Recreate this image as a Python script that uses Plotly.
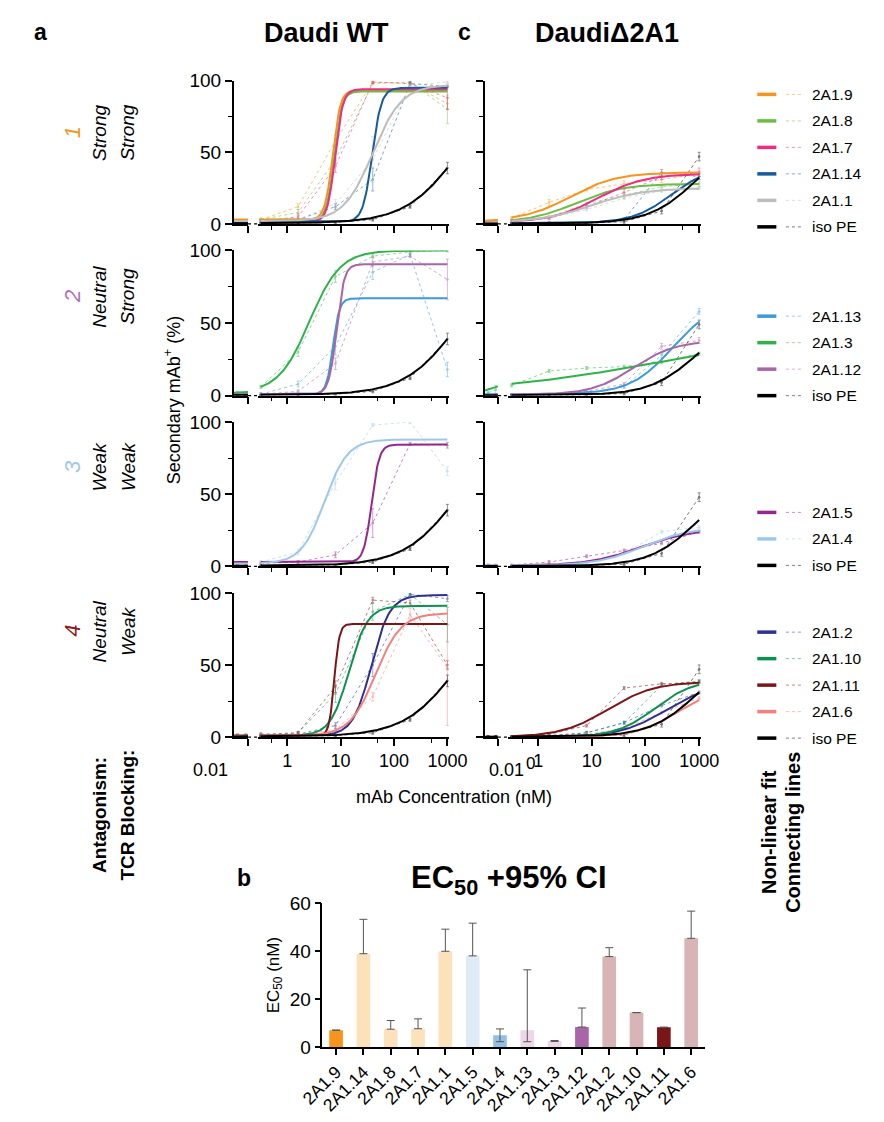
import numpy as np
import plotly.graph_objects as go

W, H = 884, 1122
FONT = "Liberation Sans, Arial, sans-serif"

# mAb concentrations (nM), 5-fold dilutions
conc = [0.0128, 0.064, 0.32, 1.6, 8, 40, 200, 1000]

# ---- group 1 : Strong / Strong
r1_names = ["2A1.9", "2A1.8", "2A1.7", "2A1.14", "2A1.1", "iso PE"]
r1_colors = ["#f7941d", "#6abd45", "#ec2c85", "#135b9b", "#bdbdbd", "#000000"]
wt1_mean = [[2, 2, 3, 12, 58, 99, 98, 84], [2, 2, 3, 8, 45, 98, 99, 80],
            [2, 2, 2, 5, 40, 99, 98, 88], [2, 2, 2, 3, 12, 31, 98, 96],
            [2, 2, 2, 3, 14, 45, 97, 99], [0.5, 0.5, 0.5, 0.5, 1, 3, 12, 39]]
wt1_err = [[1, 1, 1, 2, 4, 1, 1, 4], [1, 1, 1, 2, 4, 1, 1, 10], [1, 1, 1, 2, 4, 1, 1, 8],
           [1, 1, 1, 1, 2, 8, 1, 1], [1, 1, 1, 1, 3, 16, 1, 1], [0.3, 0.3, 0.3, 0.3, 0.5, 1, 1, 4]]
# bottom, top, EC50, hill
wt1_fit = [[3, 93.5, 7.1, 6], [2, 92.5, 7.6, 6], [1.5, 94, 7.9, 6],
           [1.5, 95, 39, 5], [2, 97, 40, 1.6], [0.5, 100, 1700, 0.86]]
ko1_mean = [[2, 2, 4, 15, 24, 28, 31, 35], [1, 1, 2, 5, 14, 20, 26, 28],
            [1, 1, 2, 4, 12, 22, 33, 36], [0.5, 0.5, 0.5, 1, 1, 3, 36, 33],
            [1, 1, 2, 4, 10, 18, 23, 25], [0.3, 0.3, 0.3, 0.3, 0.5, 1.5, 9, 47]]
ko1_err = [[1, 1, 1, 2, 1, 2, 2, 2], [1, 1, 1, 1, 1, 2, 1, 2], [1, 1, 1, 1, 1, 2, 2, 3],
           [0.3, 0.3, 0.3, 0.5, 0.5, 1, 2, 2], [1, 1, 1, 1, 1, 1, 1, 1], [0.3, 0.3, 0.3, 0.3, 0.3, 1, 2, 3]]
ko1_fit = [[2, 36, 4, 1.0], [1, 28, 5, 1.0], [1, 35, 13, 1.0],
           [0.5, 40, 300, 1.2], [1, 25, 10, 0.9], [0.3, 60, 875, 1.0]]

# ---- group 2 : Neutral / Strong
r2_names = ["2A1.13", "2A1.3", "2A1.12", "iso PE"]
r2_colors = ["#3c9ad8", "#2eb34a", "#a865a8", "#000000"]
wt2_mean = [[1, 1, 1, 8, 34, 85, 97, 18], [2, 2, 6, 30, 82, 96, 99, 100],
            [1, 1, 1, 3, 22, 92, 96, 80], [0.5, 0.5, 0.5, 0.5, 1, 3, 12, 39]]
wt2_err = [[1, 1, 1, 2, 6, 5, 1, 5], [1, 1, 1, 3, 4, 1, 1, 1],
           [1, 1, 1, 1, 4, 3, 1, 14], [0.3, 0.3, 0.3, 0.3, 0.5, 1, 1, 4]]
wt2_fit = [[1, 67, 7.2, 7], [2, 100, 2.6, 1.5], [1, 90.5, 8.4, 6], [0.5, 100, 1700, 0.86]]
ko2_mean = [[1, 1, 1, 1, 2, 6, 28, 58], [2, 4, 7, 17, 19, 20, 23, 29],
            [0.5, 0.5, 1, 1, 3, 8, 34, 38], [0.3, 0.3, 0.3, 0.3, 0.5, 1.5, 9, 49]]
ko2_err = [[0.5, 0.5, 0.5, 0.5, 1, 1, 2, 2], [1, 3, 1, 1, 1, 1, 1, 1],
           [0.3, 0.3, 0.5, 0.5, 1, 1, 2, 2], [0.3, 0.3, 0.3, 0.3, 0.3, 1, 2, 3]]
ko2_fit = [[1, 65, 320, 1.1], [0, 50, 357, 0.234], [0.5, 38, 60, 1.1], [0.3, 55, 875, 1.0]]

# ---- group 3 : Weak / Weak
r3_names = ["2A1.5", "2A1.4", "iso PE"]
r3_colors = ["#93278f", "#9dc8ec", "#000000"]
wt3_mean = [[2, 2, 2, 3, 8, 30, 85, 84], [2, 2, 3, 10, 58, 98, 100, 66],
            [0.5, 0.5, 0.5, 0.5, 1, 3, 12, 39]]
wt3_err = [[1, 1, 1, 1, 2, 10, 1, 2], [1, 1, 1, 2, 5, 1, 1, 3], [0.3, 0.3, 0.3, 0.3, 0.5, 1, 1, 4]]
wt3_fit = [[3, 84.5, 38, 6], [2, 88, 5, 2], [0.5, 100, 1700, 0.86]]
ko3_mean = [[1, 1, 1, 3, 7, 11, 16, 24], [1, 1, 1, 1, 3, 9, 24, 27],
            [0.3, 0.3, 0.3, 0.3, 0.5, 1.5, 9, 48]]
ko3_err = [[0.5, 0.5, 0.5, 1, 1, 1, 1, 1], [0.5, 0.5, 0.5, 0.5, 1, 1, 1, 1],
           [0.3, 0.3, 0.3, 0.3, 0.3, 1, 2, 3]]
ko3_fit = [[0.5, 26, 80, 0.9], [0.5, 27, 90, 1.0], [0.3, 60, 875, 1.0]]

# ---- group 4 : Neutral / Weak
r4_names = ["2A1.2", "2A1.10", "2A1.11", "2A1.6", "iso PE"]
r4_colors = ["#2e3192", "#0c9150", "#7b1518", "#f47f7b", "#000000"]
wt4_mean = [[1, 1, 1, 2, 8, 50, 99, 96], [1, 1, 1, 3, 30, 87, 99, 78],
            [1, 1, 2, 3, 35, 95, 93, 50], [1, 1, 1, 2, 5, 28, 85, 48],
            [0.5, 0.5, 0.5, 0.5, 1, 3, 12, 39]]
wt4_err = [[1, 1, 1, 1, 2, 8, 1, 2], [1, 1, 1, 1, 6, 6, 1, 12], [1, 1, 1, 1, 4, 2, 2, 3],
           [1, 1, 1, 1, 2, 3, 4, 40], [0.3, 0.3, 0.3, 0.3, 0.5, 1, 1, 4]]
wt4_fit = [[1, 98.5, 37.7, 2.5], [1, 91, 14.4, 2.5], [1, 78.5, 7.6, 9],
           [1, 86, 45, 1.8], [0.5, 100, 1700, 0.86]]
ko4_mean = [[0.5, 0.5, 0.5, 1, 3, 10, 22, 31], [0.5, 0.5, 0.5, 1, 3, 10, 36, 39],
            [0.5, 0.5, 0.5, 2, 8, 34, 37, 38], [0.5, 0.5, 0.5, 1, 2, 6, 17, 27],
            [0.3, 0.3, 0.3, 0.3, 0.5, 1.5, 9, 47]]
ko4_err = [[0.3, 0.3, 0.3, 0.5, 1, 1, 1, 1], [0.3, 0.3, 0.3, 0.5, 1, 1, 1, 1],
           [0.3, 0.3, 0.3, 0.5, 1, 1, 1, 1], [0.3, 0.3, 0.3, 0.5, 1, 1, 1, 1],
           [0.3, 0.3, 0.3, 0.3, 0.3, 1, 2, 3]]
ko4_fit = [[0, 38, 250, 1.0], [0, 40, 150, 1.2], [0, 38.5, 20, 1.0],
           [0, 35, 400, 1.1], [0.3, 58, 875, 1.0]]

# ---- EC50 bar chart
ec_names = ["2A1.9", "2A1.14", "2A1.8", "2A1.7", "2A1.1", "2A1.5", "2A1.4",
            "2A1.13", "2A1.3", "2A1.12", "2A1.2", "2A1.10", "2A1.11", "2A1.6"]
ec_vals = [7.1, 38.9, 7.5, 7.7, 39.9, 38.0, 5.0, 7.1, 2.6, 8.4, 37.7, 14.4, 8.3, 45.3]
ec_low = [7.1, 38.9, 7.5, 7.7, 39.9, 38.0, 2.3, 2.3, 2.4, 8.4, 37.7, 14.4, 8.3, 45.3]
ec_high = [7.1, 53.2, 11.1, 11.8, 49.1, 51.6, 7.6, 32.2, 2.8, 16.3, 41.4, 14.4, 8.3, 56.6]
ec_colors = ["#f7941d", "#fde1bb", "#fde1bb", "#fde1bb", "#fde1bb", "#deebf6", "#93c0e6",
             "#ecd6ea", "#ecd6ea", "#a865a8", "#d9b4b6", "#d9b4b6", "#7b1518", "#d9b4b6"]


def px(x):
    return x / W


def py(y):
    return 1 - y / H


def logistic(x, p):
    bottom, top, ec50, hill = p
    return bottom + (top - bottom) / (1 + (ec50 / x) ** hill)


panels = [
    (r1_names, r1_colors, wt1_mean, wt1_err, wt1_fit),
    (r1_names, r1_colors, ko1_mean, ko1_err, ko1_fit),
    (r2_names, r2_colors, wt2_mean, wt2_err, wt2_fit),
    (r2_names, r2_colors, ko2_mean, ko2_err, ko2_fit),
    (r3_names, r3_colors, wt3_mean, wt3_err, wt3_fit),
    (r3_names, r3_colors, ko3_mean, ko3_err, ko3_fit),
    (r4_names, r4_colors, wt4_mean, wt4_err, wt4_fit),
    (r4_names, r4_colors, ko4_mean, ko4_err, ko4_fit),
]

rows_px = [(72, 218), (245, 393), (420, 567), (594, 741)]
seg1_px = [(221, 236), (484, 498)]
seg2_px = [(246, 447), (509, 711)]
SEG1_RANGE = [-2.2, -1.0]
SEG2_RANGE = [-0.555, 3.035]

fig = go.Figure()
layout = {}
shapes = []
annotations = []

x_seg1 = np.logspace(SEG1_RANGE[0], SEG1_RANGE[1], 20)
x_seg2 = np.logspace(np.log10(0.32), 3, 200)
c1 = [v for v in conc if v < 0.1]
c2 = [v for v in conc if v >= 0.1]
n1 = len(c1)


def ax(n):
    return "" if n == 1 else str(n)


for k, (names, colors, means, errs, fits) in enumerate(panels):
    r, c = divmod(k, 2)
    xa1, xa2, ya = 2 * k + 1, 2 * k + 2, k + 1
    order = list(range(len(names)))
    # connecting lines first
    for i in order:
        for xs, sl, xa in ((c1, slice(0, n1), xa1), (c2, slice(n1, None), xa2)):
            fig.add_trace(go.Scatter(
                x=xs, y=means[i][sl], mode="lines+markers",
                line=dict(color=colors[i], width=1, dash="dot"),
                marker=dict(size=2.5, color=colors[i]),
                error_y=dict(type="data", array=errs[i][sl], thickness=0.8,
                             width=1.5, color=colors[i]),
                opacity=0.55, xaxis="x" + ax(xa), yaxis="y" + ax(ya),
                showlegend=False, hoverinfo="skip"))
    # non-linear fits on top
    for i in order:
        for xs, xa in ((x_seg1, xa1), (x_seg2, xa2)):
            fig.add_trace(go.Scatter(
                x=xs, y=logistic(xs, fits[i]), mode="lines",
                line=dict(color=colors[i], width=2),
                xaxis="x" + ax(xa), yaxis="y" + ax(ya),
                showlegend=False, name=names[i]))

    top, bot = rows_px[r]
    bottom_row = r == 3
    common_x = dict(type="log", showgrid=False, zeroline=False, showline=True,
                    linecolor="black", linewidth=1.5, ticks="outside", ticklen=7,
                    tickwidth=1.5, tickcolor="black", anchor="y" + ax(ya),
                    tickfont=dict(family=FONT, size=18, color="black"))
    layout["xaxis" + ax(xa1)] = dict(common_x, domain=[px(seg1_px[c][0]), px(seg1_px[c][1])],
                                     range=SEG1_RANGE, tickvals=[0.1], showticklabels=False)
    layout["xaxis" + ax(xa2)] = dict(common_x, domain=[px(seg2_px[c][0]), px(seg2_px[c][1])],
                                     range=SEG2_RANGE, tickvals=[1, 10, 100, 1000],
                                     ticktext=["1", "10", "100", "1000"],
                                     showticklabels=bottom_row,
                                     minor=dict(tickvals=[0.5, 5, 50, 500], ticks="outside",
                                                ticklen=4, tickwidth=1.2, tickcolor="black"))
    layout["yaxis" + ax(ya)] = dict(
        domain=[py(bot), py(top)], range=[0, 100], anchor="x" + ax(xa1),
        showgrid=False, zeroline=False, showline=True, linecolor="black", linewidth=1.5,
        ticks="outside", ticklen=7, tickwidth=1.5, tickcolor="black",
        tickvals=[0, 50, 100], showticklabels=(c == 0),
        tickfont=dict(family=FONT, size=19, color="black"),
        minor=dict(tickvals=[25, 75], ticks="outside", ticklen=4, tickwidth=1.2,
                   tickcolor="black"))
    # axis break
    shapes.append(dict(type="line", xref="paper", yref="paper",
                       x0=px(seg1_px[c][1]), x1=px(seg2_px[c][0]), y0=py(bot), y1=py(bot),
                       line=dict(color="black", width=1.2, dash="dot")))

# ---- bar chart
fig.add_trace(go.Bar(
    x=ec_names, y=ec_vals, marker=dict(color=ec_colors, line=dict(width=0)), width=0.5,
    error_y=dict(type="data", symmetric=False,
                 array=[h - v for h, v in zip(ec_high, ec_vals)],
                 arrayminus=[v - l for v, l in zip(ec_vals, ec_low)],
                 color="#555555", thickness=1, width=4),
    xaxis="x17", yaxis="y9", showlegend=False))
layout["xaxis17"] = dict(domain=[px(314), px(715)], range=[-0.5, 13.5], anchor="y9",
                         showline=True, linecolor="black", linewidth=1.5, ticks="outside",
                         ticklen=6, tickwidth=1.5, tickcolor="black", tickangle=-45,
                         tickfont=dict(family=FONT, size=17.5, color="black"), showgrid=False)
layout["yaxis9"] = dict(domain=[py(1057), py(910)], range=[0, 60], anchor="x17",
                        showline=True, linecolor="black", linewidth=1.5, ticks="outside",
                        ticklen=6, tickwidth=1.5, tickcolor="black", tickvals=[0, 20, 40, 60],
                        showgrid=False, zeroline=False,
                        tickfont=dict(family=FONT, size=19, color="black"),
                        title=dict(text="EC<sub>50</sub> (nM)", standoff=6,
                                   font=dict(family=FONT, size=17, color="black")))

# ---- legends (drawn per group)
legend_groups = [(r1_names, r1_colors, 221), (r2_names, r2_colors, 393),
                 (r3_names, r3_colors, 566), (r4_names, r4_colors, 742)]
for names, colors, last_y in legend_groups:
    n = len(names)
    for i, (nm, col) in enumerate(zip(names, colors)):
        yy = last_y - (n - 1 - i) * 27
        shapes.append(dict(type="line", xref="paper", yref="paper", x0=px(770), x1=px(790),
                           y0=py(yy), y1=py(yy), line=dict(color=col, width=3.5)))
        shapes.append(dict(type="line", xref="paper", yref="paper", x0=px(800), x1=px(816),
                           y0=py(yy), y1=py(yy), opacity=0.5,
                           line=dict(color=col, width=1, dash="dot")))
        annotations.append(dict(text=nm, x=px(825), y=py(yy), xref="paper", yref="paper",
                                xanchor="left", yanchor="middle", showarrow=False,
                                font=dict(family=FONT, size=15.5, color="black")))


def txt(s, x, y, size, angle=0, xa="center", ya="middle", color="black"):
    annotations.append(dict(text=s, x=px(x), y=py(y), xref="paper", yref="paper",
                            xanchor=xa, yanchor=ya, showarrow=False, textangle=angle,
                            font=dict(family=FONT, size=size, color=color)))


txt("<b>a</b>", 18, 22, 23)
txt("<b>c</b>", 463, 22, 23)
txt("<b>b</b>", 232, 885, 23)
txt("<b>Daudi WT</b>", 318, 23, 27)
txt("<b>DaudiΔ2A1</b>", 612, 23, 27)
txt("<b>EC<sub>50</sub> +95% CI</b>", 510, 887, 31)
txt("Secondary mAb<sup>+</sup> (%)", 157, 398, 18, angle=-90)
txt("mAb Concentration (nM)", 452, 802, 18)
txt("0.01", 197, 774, 18)
txt("0.01", 507, 774, 18)
txt("0", 532, 768, 17)
txt("<b>Non-linear fit</b>", 783, 838, 20, angle=-90)
txt("<b>Connecting lines</b>", 808, 838, 20, angle=-90)
txt("<b>Antagonism:</b>", 80, 820, 19, angle=-90)
txt("<b>TCR Blocking:</b>", 110, 820, 19, angle=-90)

group_y = [125, 292, 465, 633]
group_num_colors = ["#f7941d", "#b272b4", "#9dc8ec", "#8b1a1a"]
antagonism = ["Strong", "Neutral", "Weak", "Neutral"]
blocking = ["Strong", "Strong", "Weak", "Weak"]
for i, gy in enumerate(group_y):
    txt("<i>%d</i>" % (i + 1), 52, gy, 22, angle=-90, color=group_num_colors[i])
    txt("<i>%s</i>" % antagonism[i], 80, gy, 19, angle=-90)
    txt("<i>%s</i>" % blocking[i], 110, gy, 19, angle=-90)

fig.update_layout(**layout)
fig.update_layout(width=W, height=H, margin=dict(l=0, r=0, t=0, b=0),
                  plot_bgcolor="white", paper_bgcolor="white", showlegend=False,
                  shapes=shapes, annotations=annotations, bargap=0.5,
                  font=dict(family=FONT, color="black"))

fig.write_html("out.html", config={"displayModeBar": False},
               post_script="document.body.style.margin='0px';")
